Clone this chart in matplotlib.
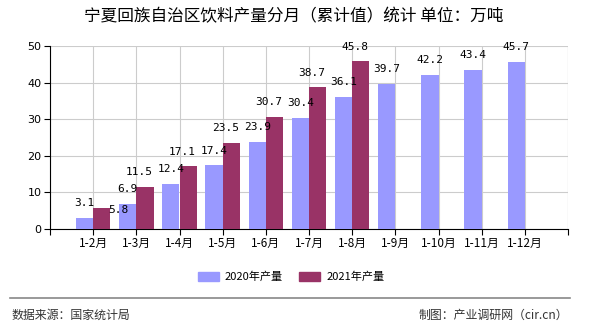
import numpy as np
import matplotlib.pyplot as plt
from matplotlib.patches import Patch
from matplotlib.lines import Line2D

plt.rcParams['font.family'] = ['Noto Sans CJK SC', 'DejaVu Sans']

months = ['1-2月', '1-3月', '1-4月', '1-5月', '1-6月', '1-7月', '1-8月',
          '1-9月', '1-10月', '1-11月', '1-12月']
v2020 = [3.1, 6.9, 12.4, 17.4, 23.9, 30.4, 36.1, 39.7, 42.2, 43.4, 45.7]
v2021 = [5.8, 11.5, 17.1, 23.5, 30.7, 38.7, 45.8]
names = ['2020年产量', '2021年产量']

c2020 = '#9999ff'
c2021 = '#993366'

fig = plt.figure(figsize=(5.9, 3.3), dpi=100)
ax = fig.add_axes([50/590, 1 - 229/330, 518/590, 183/330])

x = np.arange(1, len(months) + 1)
w = 0.4
ax.bar(x - w/2, v2020, width=w, color=c2020, zorder=3)
x2 = x[:len(v2021)]
ax.bar(x2 + w/2, v2021, width=w, color=c2021, zorder=3)

lab = dict(fontsize=8, family='DejaVu Sans Mono', ha='center', va='bottom')
for xi, v in zip(x, v2020):
    ax.annotate(f'{v}', (xi - w/2, v), xytext=(0, 7), textcoords='offset points', **lab)
for i, (xi, v) in enumerate(zip(x2, v2021)):
    off = (12, -5) if i == 0 else (-4, 7)
    ax.annotate(f'{v}', (xi + w/2, v), xytext=off, textcoords='offset points', **lab)

ax.set_xlim(0, 12)
ax.set_ylim(0, 50)
ax.set_yticks(np.arange(0, 51, 10))
ax.set_xticks(np.arange(0, 13))
ax.set_xticklabels([''] + months + [''], fontsize=8.5)
ax.tick_params(axis='y', labelsize=8, length=4, width=0.8, pad=2)
ax.tick_params(axis='x', length=4, width=0.8, pad=2)
for t in ax.get_yticklabels():
    t.set_family('DejaVu Sans')
ax.grid(True, color='#cccccc', linewidth=0.8, zorder=0)
for s in ['top', 'right']:
    ax.spines[s].set_visible(False)
ax.axvline(12, color='#cccccc', linewidth=0.8, zorder=0)
ax.spines['left'].set_color('black')
ax.spines['bottom'].set_color('black')

fig.text(294/590, 1 - 17/330, '宁夏回族自治区饮料产量分月（累计值）统计 单位：万吨',
         ha='center', va='center', fontsize=12)

handles = [Patch(color=c2020), Patch(color=c2021)]
fig.legend(handles, names, loc='center', bbox_to_anchor=(291/590, 1 - 277/330),
           ncol=2, frameon=False, fontsize=8, handlelength=1.9, handleheight=0.8,
           columnspacing=1.45, handletextpad=0.55, borderpad=0)

fig.add_artist(Line2D([10/590, 570/590], [1 - 298/330, 1 - 298/330],
                      color='#888888', linewidth=1.2))
fig.text(12/590, 1 - 315/330, '数据来源：国家统计局', ha='left', va='center', fontsize=8.6, color='#333333')
fig.text(568/590, 1 - 315/330, '制图：产业调研网（cir.cn）', ha='right', va='center', fontsize=8.6, color='#333333')

fig.savefig('out.png', dpi=100)
